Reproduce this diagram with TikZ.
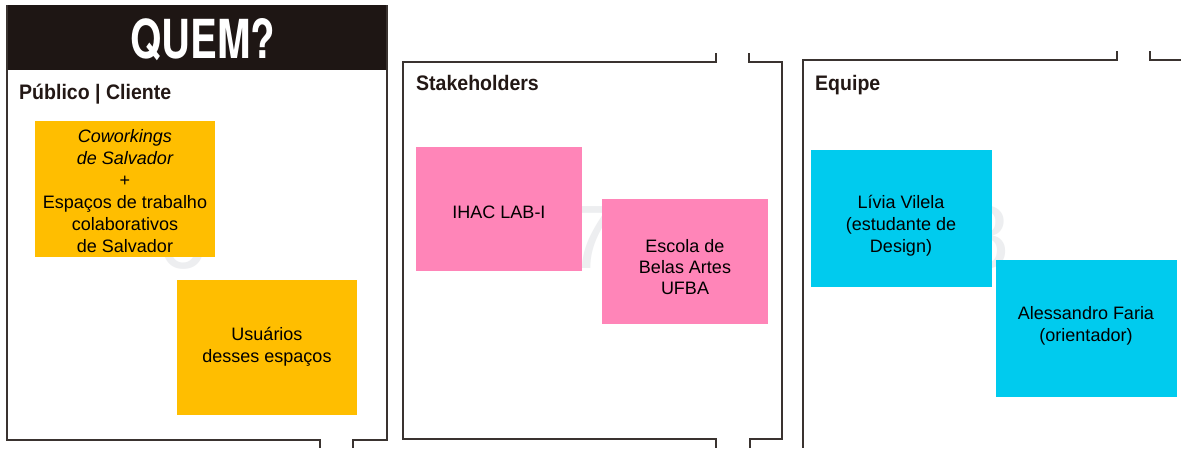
\documentclass[tikz,border=0pt]{standalone}
\usepackage{fontspec}
\setmainfont{Liberation Sans}
\newfontfamily\heros{TeX Gyre Heros}
\usepackage{graphicx}
\definecolor{ink}{HTML}{231815}
\definecolor{frame}{HTML}{3A3330}
\definecolor{hdr}{HTML}{1E1614}
\definecolor{yel}{HTML}{FFBE00}
\definecolor{pnk}{HTML}{FF85B8}
\definecolor{cyn}{HTML}{00CBEE}
\definecolor{ghost}{HTML}{EDEEF0}
\newcommand{\ttl}[1]{\scalebox{0.93}[1]{\bfseries #1}}
\begin{document}
\begin{tikzpicture}[x=1pt,y=-1pt,
  panel/.style={draw=frame,line width=1.1pt},
  title/.style={anchor=base west,inner sep=0pt,text=ink,font=\fontsize{21}{24}\selectfont},
  note/.style={anchor=north west,inner sep=0pt,outer sep=0pt},
  notetext/.style={inner sep=0pt,align=center,text=black,font=\fontsize{18}{22}\selectfont},
  ghostdigit/.style={anchor=base,inner sep=0pt,text=ghost,font=\fontsize{90}{90}\selectfont}]
\useasboundingbox[fill=white] (0,0) rectangle (1181,448);
% ghost digits
\node[ghostdigit] (g6) at (183,268) {6};
\node[ghostdigit] (g7) at (592,268) {7};
\node[ghostdigit] (g8) at (985,268) {8};
% panel 1
\fill[hdr] (7,5) rectangle (387,70);
\node[anchor=base,inner sep=0pt,text=white] (quem) at (203,58)
  {\resizebox{145pt}{40pt}{\heros\bfseries QUEM?}};
\draw[panel] (7,5) -- (7,440) -- (320,440) -- (320,448);
\draw[panel] (353,448) -- (353,440) -- (387,440) -- (387,5);
\node[title] (t1) at (19,99) {\ttl{Público | Cliente}};
% panel 2
\draw[panel] (716,53) -- (716,62) -- (403,62) -- (403,439) -- (716,439) -- (716,448);
\draw[panel] (749,53) -- (749,62) -- (782,62) -- (782,439) -- (750,439) -- (750,448);
\node[title] (t2) at (416,90) {\ttl{Stakeholders}};
% panel 3
\draw[panel] (1117,51) -- (1117,60) -- (803,60) -- (803,448);
\draw[panel] (1150,51) -- (1150,60) -- (1181,60);
\node[title] (t3) at (815,90) {\ttl{Equipe}};
% notes
\node[note,fill=yel,minimum width=180pt,minimum height=136pt] (y1) at (35,121) {};
\node[notetext] (y1t) at (125,191)
  {\itshape Coworkings\\\itshape de Salvador\\+\\Espaços de trabalho\\colaborativos\\de Salvador};
\node[note,fill=yel,minimum width=180pt,minimum height=135pt] (y2) at (177,280) {};
\node[notetext] (y2t) at (267,347) {Usuários\\desses espaços};
\node[note,fill=pnk,minimum width=166pt,minimum height=124pt] (p1) at (416,147) {};
\node[notetext] (p1t) at (499,212) {IHAC LAB-I};
\node[note,fill=pnk,minimum width=166pt,minimum height=125pt] (p2) at (602,199) {};
\node[notetext,font=\fontsize{18}{21}\selectfont] (p2t) at (685,267) {Escola de\\Belas Artes\\UFBA};
\node[note,fill=cyn,minimum width=181pt,minimum height=137pt] (c1) at (811,150) {};
\node[notetext] (c1t) at (901,226) {Lívia Vilela\\(estudante de\\Design)};
\node[note,fill=cyn,minimum width=181pt,minimum height=137pt] (c2) at (996,260) {};
\node[notetext] (c2t) at (1086,326) {Alessandro Faria\\(orientador)};
\end{tikzpicture}
\end{document}
